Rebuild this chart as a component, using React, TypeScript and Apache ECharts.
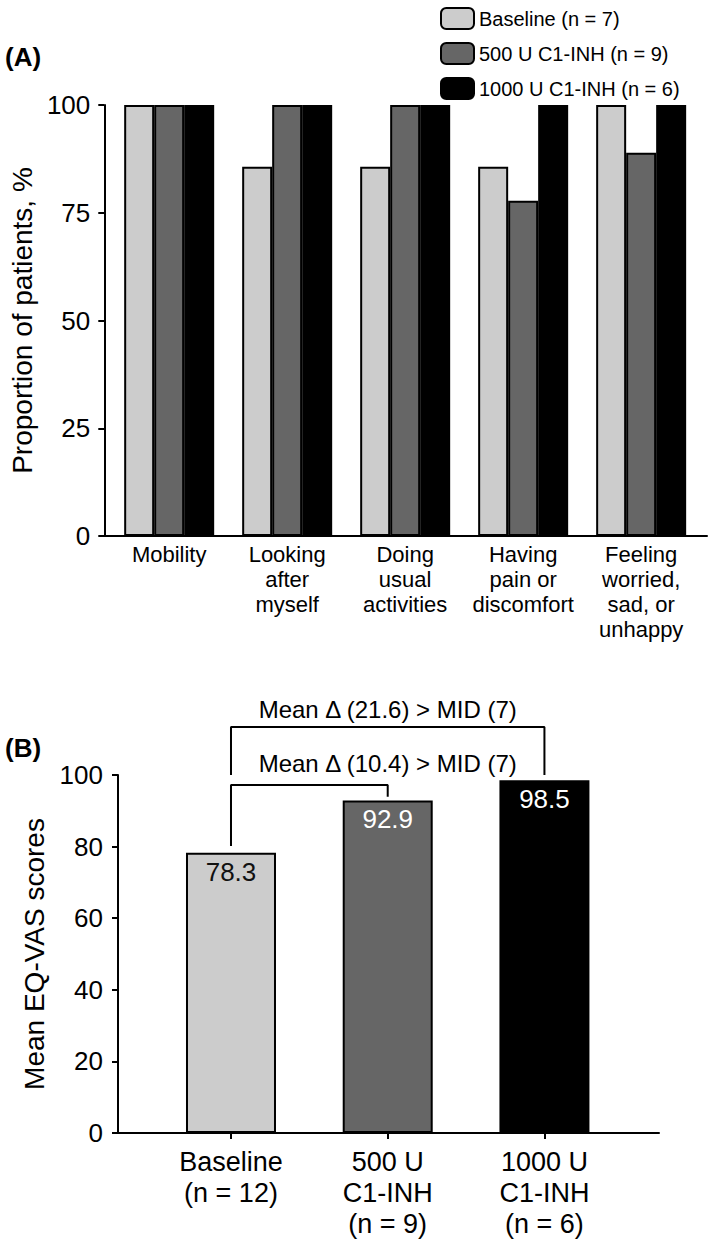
import React, { useEffect, useRef } from "react";
import * as echarts from "echarts";

// ---------- Panel A data ----------
const categoriesA = [
  "Mobility",
  "Looking\nafter\nmyself",
  "Doing\nusual\nactivities",
  "Having\npain or\ndiscomfort",
  "Feeling\nworried,\nsad, or\nunhappy",
];
const seriesNamesA = ["Baseline (n = 7)", "500 U C1-INH (n = 9)", "1000 U C1-INH (n = 6)"];
const baselineA = [100, 85.7, 85.7, 85.7, 100];
const c500A = [100, 100, 100, 77.8, 88.9];
const c1000A = [100, 100, 100, 100, 100];
const yTicksA = [0, 25, 50, 75, 100];

// ---------- Panel B data ----------
const categoriesB = ["Baseline\n(n = 12)", "500 U\nC1-INH\n(n = 9)", "1000 U\nC1-INH\n(n = 6)"];
const valuesB = [78.3, 92.9, 98.5];
const yTicksB = [0, 20, 40, 60, 80, 100];
// brackets: [fromIndex, toIndex, leftFootY, topY, rightFootY]
const bracketLow = [0, 1, 80.2, 97.2, 93.9];
const bracketHigh = [0, 2, 100, 113.4, 100];
const annotationTexts = ["Mean Δ (10.4) > MID (7)", "Mean Δ (21.6) > MID (7)"];
const annotationLevels = [103.1, 118.4];

const COLORS = ["#cccccc", "#666666", "#000000"];
const FONT = "'Liberation Sans', Arial, Helvetica, sans-serif";

function bracketPoints(b: number[]) {
  return [
    [b[0], b[2]],
    [b[0], b[3]],
    [b[1], b[3]],
    [b[1], b[4]],
  ];
}

export default function App() {
  const ref = useRef<HTMLDivElement>(null);

  useEffect(() => {
    if (!ref.current) return;
    const chart = echarts.init(ref.current, undefined, { renderer: "svg" });

    const axisLine = { show: true, onZero: false, lineStyle: { color: "#000", width: 2 } };

    const option: any = {
      animation: false,
      textStyle: { fontFamily: FONT, color: "#000" },
      legend: {
        orient: "vertical",
        left: 435,
        top: 2,
        itemWidth: 33,
        itemHeight: 21,
        itemGap: 12,
        icon: "roundRect",
        textStyle: { fontSize: 20, color: "#000", fontFamily: FONT },
        itemStyle: { borderColor: "#000", borderWidth: 2 },
        data: seriesNamesA,
      },
      graphic: [
        {
          type: "text",
          x: 5,
          y: 57,
          style: { text: "(A)", font: `bold 26px ${FONT}`, fill: "#000", verticalAlign: "middle" },
        },
        {
          type: "text",
          x: 5,
          y: 748,
          style: { text: "(B)", font: `bold 26px ${FONT}`, fill: "#000", verticalAlign: "middle" },
        },
      ],
      grid: [
        { left: 94, right: 2, top: 105, bottom: 704 },
        { left: 118, right: 50, top: 775, bottom: 107 },
      ],
      xAxis: [
        {
          type: "value",
          gridIndex: 0,
          min: -0.55,
          max: 4.558,
          axisLine,
          axisTick: { show: false },
          splitLine: { show: false },
          axisLabel: {
            customValues: categoriesA.map((_, i) => i),
            formatter: (v: number) => categoriesA[Math.round(v)],
            fontSize: 22,
            lineHeight: 25,
            margin: 6,
            color: "#000",
            fontFamily: FONT,
            verticalAlign: "top",
          },
        },
        {
          type: "value",
          gridIndex: 1,
          min: -0.721,
          max: 2.731,
          axisLine,
          axisTick: {
            show: true,
            customValues: categoriesB.map((_, i) => i),
            length: 6,
            lineStyle: { color: "#000", width: 2 },
          },
          splitLine: { show: false },
          axisLabel: {
            customValues: categoriesB.map((_, i) => i),
            formatter: (v: number) => categoriesB[Math.round(v)],
            fontSize: 27,
            lineHeight: 31,
            margin: 13,
            color: "#000",
            fontFamily: FONT,
          },
        },
      ],
      yAxis: [
        {
          type: "value",
          gridIndex: 0,
          min: yTicksA[0],
          max: yTicksA[yTicksA.length - 1],
          interval: 25,
          axisLine,
          axisTick: { show: true, length: 6, lineStyle: { color: "#000", width: 2 } },
          splitLine: { show: false },
          axisLabel: { fontSize: 26, margin: 14, color: "#000", fontFamily: FONT },
          name: "Proportion of patients, %",
          nameLocation: "middle",
          nameGap: 53,
          nameTextStyle: { fontSize: 28, color: "#000", fontFamily: FONT },
        },
        {
          type: "value",
          gridIndex: 1,
          min: yTicksB[0],
          max: yTicksB[yTicksB.length - 1],
          interval: 20,
          axisLine,
          axisTick: { show: true, length: 6, lineStyle: { color: "#000", width: 2 } },
          splitLine: { show: false },
          axisLabel: { fontSize: 26, margin: 15, color: "#000", fontFamily: FONT },
          name: "Mean EQ-VAS scores",
          nameLocation: "middle",
          nameGap: 69,
          nameTextStyle: { fontSize: 28, color: "#000", fontFamily: FONT },
        },
      ],
      series: [
        ...[baselineA, c500A, c1000A].map((arr, si) => ({
          type: "bar",
          name: seriesNamesA[si],
          xAxisIndex: 0,
          yAxisIndex: 0,
          barWidth: 30,
          barGap: "0%",
          itemStyle: { color: COLORS[si], borderColor: "#000", borderWidth: 2 },
          data: arr.map((v, i) => [i, v]),
        })),
        {
          type: "bar",
          name: "EQ-VAS",
          xAxisIndex: 1,
          yAxisIndex: 1,
          barWidth: 90,
          data: valuesB.map((v, i) => ({
            value: [i, v],
            itemStyle: { color: COLORS[i], borderColor: "#000", borderWidth: 2 },
            label: { color: i === 0 ? "#111" : "#fff" },
          })),
          label: {
            show: true,
            position: "insideTop",
            distance: 6,
            fontSize: 26,
            fontFamily: FONT,
            formatter: (p: any) => p.value[1].toFixed(1),
          },
        },
        ...[bracketLow, bracketHigh].map((b) => ({
          type: "line",
          xAxisIndex: 1,
          yAxisIndex: 1,
          symbol: "none",
          clip: false,
          silent: true,
          lineStyle: { color: "#000", width: 2 },
          data: bracketPoints(b),
        })),
        {
          type: "scatter",
          xAxisIndex: 1,
          yAxisIndex: 1,
          clip: false,
          silent: true,
          symbolSize: 1,
          itemStyle: { color: "rgba(0,0,0,0)", opacity: 1 },
          label: {
            show: true,
            position: "inside",
            fontSize: 24,
            color: "#000",
            opacity: 1,
            fontFamily: FONT,
            formatter: (p: any) => annotationTexts[p.dataIndex],
          },
          data: annotationLevels.map((y) => [1, y]),
        },
      ],
    };

    chart.setOption(option);
    return () => chart.dispose();
  }, []);

  return (
    <div
      ref={ref}
      style={{ position: "absolute", left: 0, top: 0, width: 709, height: 1240, background: "#fff" }}
    />
  );
}
